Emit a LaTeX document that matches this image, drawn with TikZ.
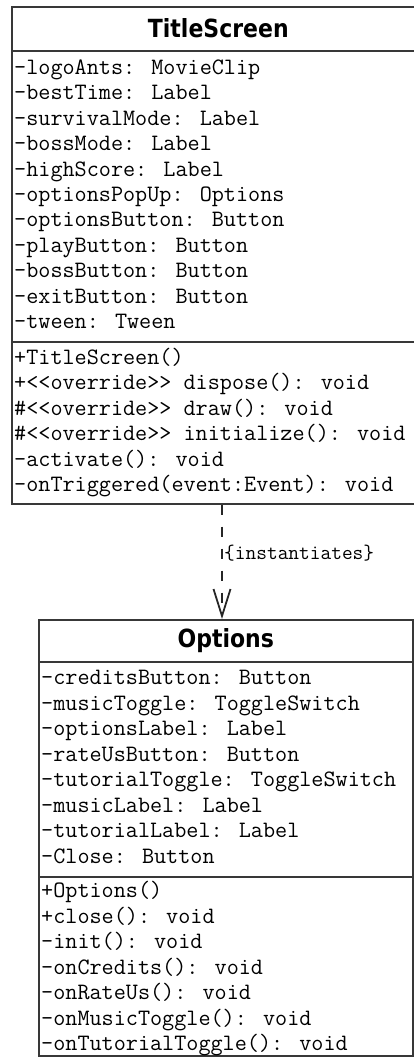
\documentclass[tikz,border=0pt]{standalone}
\usepackage{fontspec}
\usetikzlibrary{arrows.meta,calc}
\newfontfamily\headfont[FakeStretch=0.88]{DejaVu Sans}
\begin{document}
\begin{tikzpicture}[x=1pt,y=-1pt]
\clip (0,0) rectangle (414,1057);
\tikzset{
  boxline/.style={draw=black!78, line width=1.6pt},
  classbox/.style={boxline, rectangle, anchor=north west, inner sep=0pt, fill=white},
  classtitle/.style={font=\headfont\bfseries\fontsize{25}{30}\selectfont, inner sep=0pt},
  member/.style={font=\ttfamily\fontsize{23.5}{28}\selectfont, anchor=west, inner sep=0pt,
                 text height=13pt, text depth=4pt},
  dep/.style={draw=black!85, line width=2.4pt, dash pattern=on 10pt off 12pt,
              -{Straight Barb[length=27pt,width=17pt,line width=1.8pt]}},
  lbl/.style={font=\ttfamily\fontsize{20.8}{24}\selectfont, anchor=west, inner sep=0pt}
}

% ---- class TitleScreen ----
\node[classbox, minimum width=413pt, minimum height=497pt] (ts) at (11,6) {};
\node[classtitle] (tsname) at ($(ts.north)+(0,22.5)$) {TitleScreen};
\draw[boxline] ($(ts.north west)+(0,45)$) -- ($(ts.north east)+(0,45)$);
\draw[boxline] ($(ts.north west)+(0,336)$) -- ($(ts.north east)+(0,336)$);
\foreach \t [count=\i from 0] in {-logoAnts: MovieClip, -bestTime: Label,
    -survivalMode: Label, -bossMode: Label, -highScore: Label,
    -optionsPopUp: Options, -optionsButton: Button, -playButton: Button,
    -bossButton: Button, -exitButton: Button, -tween: Tween}
  \node[member] (tsa\i) at (14,{70+25.4*\i}) {\t};
\foreach \t [count=\i from 0] in {+TitleScreen(), +<<override>> dispose(): void,
    \#<<override>> draw(): void, \#<<override>> initialize(): void,
    -activate(): void, -onTriggered(event:Event): void}
  \node[member] (tsm\i) at (14,{360+25.4*\i}) {\t};

% ---- class Options ----
\node[classbox, minimum width=374pt, minimum height=436pt] (op) at (38,619) {};
\node[classtitle] (opname) at ($(op.north)+(0,21.5)$) {Options};
\draw[boxline] ($(op.north west)+(0,43)$) -- ($(op.north east)+(0,43)$);
\draw[boxline] ($(op.north west)+(0,258)$) -- ($(op.north east)+(0,258)$);
\foreach \t [count=\i from 0] in {-creditsButton: Button, -musicToggle: ToggleSwitch,
    -optionsLabel: Label, -rateUsButton: Button, -tutorialToggle: ToggleSwitch,
    -musicLabel: Label, -tutorialLabel: Label, -Close: Button}
  \node[member] (opa\i) at (41,{680+25.5*\i}) {\t};
\foreach \t [count=\i from 0] in {+Options(), +close(): void, -init(): void,
    -onCredits(): void, -onRateUs(): void, -onMusicToggle(): void,
    -onTutorialToggle(): void}
  \node[member] (opm\i) at (41,{893+25.5*\i}) {\t};

% ---- dependency ----
\coordinate (tip) at (222,619);
\draw[dep] (ts.south -| tip) -- (tip);
\node[lbl] (inst) at (224,553) {\{instantiates\}};
\end{tikzpicture}
\end{document}
